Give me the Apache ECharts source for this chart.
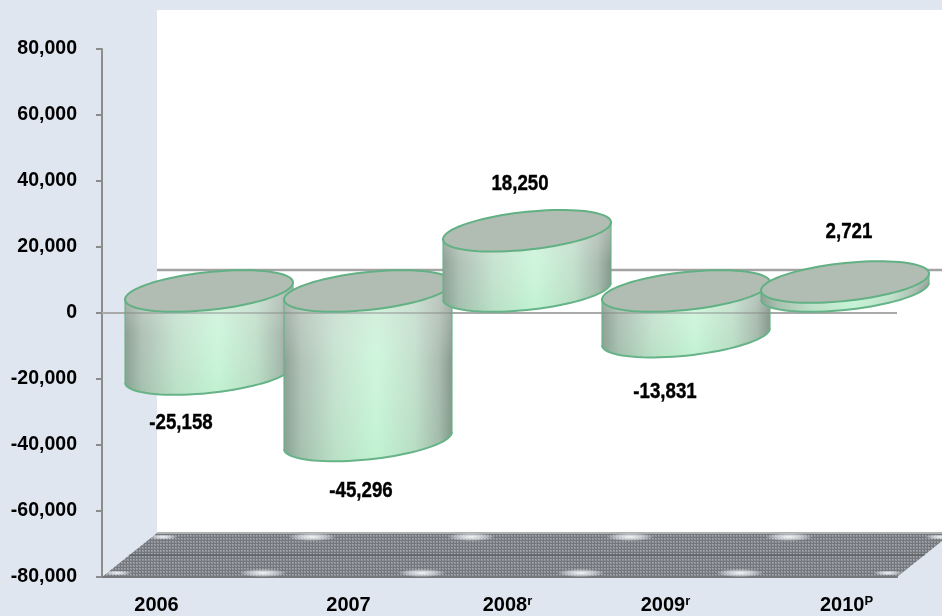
<!DOCTYPE html>
<html><head><meta charset="utf-8">
<style>html,body{margin:0;padding:0;background:#dfe6f0}#c{width:942px;height:616px}</style>
<script src="https://cdn.jsdelivr.net/npm/echarts@6/dist/echarts.min.js"></script>
</head><body><div id="c"></div>
<script>
const categories = ['2006', '2007', '2008', '2009', '2010'];
const superscripts = ['', '', 'r', 'r', 'P'];
const netValues = [-25158, -45296, 18250, -13831, 2721];
const valueLabels = ['-25,158', '-45,296', '18,250', '-13,831', '2,721'];

const DX = 55, DY = -44;            // depth of the 3-D box
const RX = 84, RY = 19, SHEAR = 8.5; // tilted disc
const labelOffsets = [[-28, 49], [-7, 50], [-7, -47], [-21, 55], [4, -50]];
const xLabelShift = [-25, 8, 8, 7, 29];

function ring(cx, cy, t0, t1, n) {
  const pts = [];
  for (let i = 0; i <= n; i++) {
    const t = t0 + (t1 - t0) * i / n;
    pts.push([cx + RX * Math.cos(t), cy - SHEAR * Math.cos(t) + RY * Math.sin(t)]);
  }
  return pts;
}
const dither = document.createElement('canvas');
dither.width = dither.height = 3;
(function () {
  const g = dither.getContext('2d');
  g.fillStyle = '#8f9399'; g.fillRect(0, 0, 3, 3);
  g.fillStyle = '#74787d'; g.fillRect(0, 0, 1, 3); g.fillRect(0, 0, 3, 1);
  g.fillStyle = '#a8abb0'; g.fillRect(1, 1, 1, 1);
})();

function glow(x, y, r) {
  return {
    type: 'circle', x: x, y: y, scaleY: 0.17, shape: { cx: 0, cy: 0, r: r },
    style: { fill: { type: 'radial', x: 0.5, y: 0.5, r: 0.5, colorStops: [
      { offset: 0, color: 'rgba(255,255,255,0.95)' }, { offset: 0.55, color: 'rgba(236,241,246,0.6)' }, { offset: 1, color: 'rgba(255,255,255,0)' }] } }
  };
}

function renderRoom(params, api) {
  const s = params.coordSys, L = s.x, R = s.x + s.width, B = s.y + s.height, W = api.getWidth();
  const zero = api.coord([0, 0])[1];
  const kids = [
    { type: 'rect', shape: { x: L + DX, y: 10, width: W - L - DX, height: B + DY - 10 }, style: { fill: '#ffffff' } },
    { type: 'line', shape: { x1: L + DX, y1: zero + DY + 1, x2: W, y2: zero + DY + 1 }, style: { stroke: '#a3a3a3', lineWidth: 2.5 } },
    { type: 'line', shape: { x1: L, y1: zero, x2: R, y2: zero }, style: { stroke: '#a9a9a9', lineWidth: 2 } },
    { type: 'polygon', shape: { points: [[L, B], [R, B], [R + DX, B + DY], [L + DX, B + DY]] }, style: { fill: { image: dither, repeat: 'repeat' } } },
    { type: 'line', shape: { x1: L + DX, y1: B + DY, x2: W, y2: B + DY }, style: { stroke: '#b0b0b0', lineWidth: 2 } },
    { type: 'line', shape: { x1: L + DX / 2, y1: B + DY / 2, x2: R + DX / 2, y2: B + DY / 2 }, style: { stroke: '#4f5357', lineWidth: 1 } }
  ];
  const step = s.width / categories.length;
  for (let i = 0; i <= categories.length; i++) {
    const edge = i === 0 || i === categories.length;
    const r = edge ? 15 : 24;
    const inFront = i === 0 ? 15 : (i === categories.length ? -9 : 2);
    const inBack = i === 0 ? 6 : (i === categories.length ? -12 : -4);
    kids.push(glow(L + step * i + inFront, B - 4, r));
    kids.push(glow(L + DX + step * i + inBack, B + DY + 4, r));
  }
  return { type: 'group', children: kids };
}

function renderCylinder(params, api) {
  const i = api.value(0), v = api.value(1);
  const pv = api.coord([i, v]), p0 = api.coord([i, 0]);
  const cx = pv[0] + DX / 2, yv = pv[1] + DY / 2, y0 = p0[1] + DY / 2;
  const top = Math.min(yv, y0), bot = Math.max(yv, y0);
  const lower = ring(cx, bot, Math.PI, 0, 40);
  const upper = ring(cx, top, 0, Math.PI, 40);
  const body = [[cx - RX, top + SHEAR]].concat(lower, [[cx + RX, top - SHEAR]], upper);
  const z = i * 10;
  const kids = [
    { type: 'polygon', z2: z, shape: { points: body }, style: { fill: { type: 'linear', x: 0, y: 0, x2: 1, y2: 0, colorStops: [
      { offset: 0, color: '#7f9086' }, { offset: 0.1, color: '#a5b8ac' }, { offset: 0.3, color: '#c0dfca' },
      { offset: 0.55, color: '#c9f6d9' }, { offset: 0.78, color: '#bcdcc6' }, { offset: 0.92, color: '#a0b2a6' }, { offset: 1, color: '#76877c' }] } } },
    { type: 'polygon', z2: z + 1, shape: { points: body }, style: { fill: { type: 'linear', x: 0, y: 0, x2: 0, y2: 1, colorStops: [
      { offset: 0, color: 'rgba(215,218,216,0.55)' }, { offset: 0.45, color: 'rgba(240,248,242,0.15)' },
      { offset: 1, color: 'rgba(160,225,180,0.22)' }] } } },
    { type: 'line', z2: z + 2, shape: { x1: cx - RX, y1: top + SHEAR, x2: cx - RX, y2: bot + SHEAR }, style: { stroke: 'rgba(102,179,136,0.75)', lineWidth: 1.5 } },
    { type: 'line', z2: z + 2, shape: { x1: cx + RX, y1: top - SHEAR, x2: cx + RX, y2: bot - SHEAR }, style: { stroke: 'rgba(102,179,136,0.75)', lineWidth: 1.5 } },
    { type: 'polyline', z2: z + 2, shape: { points: lower }, style: { fill: null, stroke: '#66b388', lineWidth: 2 } },
    { type: 'polygon', z2: z + 3, shape: { points: ring(cx, top, 0, Math.PI * 2, 80) }, style: { fill: '#b1bdb2', stroke: '#62b184', lineWidth: 2 } }
  ];
  if (v < 0) {
    kids.splice(2, 0, { type: 'line', z2: z + 1, shape: { x1: cx - RX, y1: p0[1], x2: cx + RX, y2: p0[1] }, style: { stroke: 'rgba(130,130,130,0.55)', lineWidth: 1.5 } });
  }
  return { type: 'group', children: kids };
}

function renderValueLabel(params, api) {
  const i = api.value(0), v = api.value(1);
  const p = api.coord([i, v]), off = labelOffsets[i];
  return {
    type: 'text', x: p[0] + DX / 2 + off[0], y: p[1] + DY / 2 + off[1], scaleX: 0.85,
    style: { text: valueLabels[i], fill: '#000', stroke: '#000', lineWidth: 0.4, font: 'bold 22px "Liberation Sans"', align: 'center', verticalAlign: 'middle' }
  };
}

const xRich = {};
categories.forEach(function (c, i) {
  const pad = xLabelShift[i] * 2;
  const hasSup = !!superscripts[i];
  xRich['a' + i] = { fontFamily: 'Liberation Sans', fontWeight: 'bold', fontSize: 20, color: '#000',
    padding: [0, (pad < 0 && !hasSup) ? -pad : 0, 0, pad > 0 ? pad : 0] };
  xRich['s' + i] = { fontFamily: 'Liberation Sans', fontWeight: 'bold', fontSize: 13, color: '#000', verticalAlign: 'top' };
});

const chart = echarts.init(document.getElementById('c'), null, { renderer: 'canvas' });
chart.setOption({
  animation: false,
  backgroundColor: '#dfe6f0',
  grid: { left: 102, right: 45, top: 49, bottom: 39, containLabel: false },
  xAxis: {
    type: 'category', data: categories, position: 'bottom',
    axisLine: { onZero: false, lineStyle: { color: '#77797c', width: 2 } },
    axisTick: { show: false }, splitLine: { show: false },
    axisLabel: { margin: 18, interval: 0, formatter: function (v, i) {
      return '{a' + i + '|' + v + '}' + (superscripts[i] ? '{s' + i + '|' + superscripts[i] + '}' : '');
    }, rich: xRich }
  },
  yAxis: {
    type: 'value', min: -80000, max: 80000, interval: 20000,
    axisLine: { show: true, lineStyle: { color: '#8c8c8c', width: 2 } },
    axisTick: { show: true, length: 6, lineStyle: { color: '#8c8c8c', width: 2 } },
    splitLine: { show: false },
    axisLabel: { margin: 25, color: '#000', fontFamily: 'Liberation Sans', fontWeight: 'bold', fontSize: 19.5,
      formatter: function (v) { return v.toLocaleString('en-US'); } }
  },
  series: [
    { type: 'custom', name: 'room', z: 1, clip: false, silent: true, renderItem: renderRoom, data: [[0, 0]], encode: { x: 0, y: 1 } },
    { type: 'custom', name: 'Net', z: 3, clip: false, silent: true, renderItem: renderCylinder,
      data: netValues.map(function (v, i) { return [i, v]; }), encode: { x: 0, y: 1 } },
    { type: 'custom', name: 'labels', z: 4, clip: false, silent: true, renderItem: renderValueLabel,
      data: netValues.map(function (v, i) { return [i, v]; }), encode: { x: 0, y: 1 } }
  ]
});
</script></body></html>
